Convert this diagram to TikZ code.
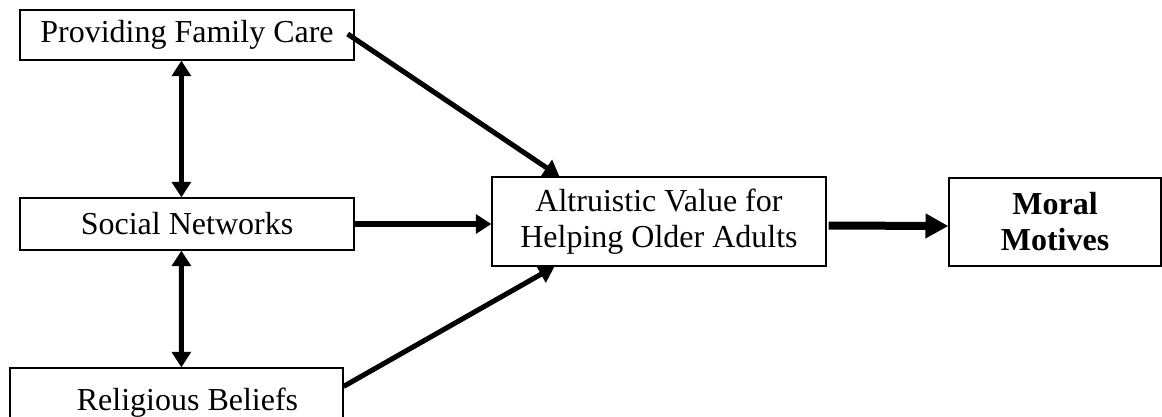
\documentclass[tikz,border=0pt]{standalone}
\usepackage{fontspec}
\setmainfont{Liberation Serif}
\usetikzlibrary{arrows.meta,calc}
\tikzset{
  box/.style={draw=black, line width=0.45pt, rectangle, inner sep=0pt, align=center,
    font=\fontsize{12pt}{13.5pt}\selectfont},
  thinarrow/.style={line width=1.9pt, -{Triangle[length=5.8pt,width=7pt]}},
  dblarrow/.style={line width=1.9pt, {Triangle[length=5.8pt,width=7pt]}-{Triangle[length=5.8pt,width=7pt]}},
  thickarrow/.style={line width=3pt, -{Triangle[length=8.6pt,width=8.8pt]}}
}
\begin{document}
\begin{tikzpicture}[x=0.375pt,y=-0.375pt]
\useasboundingbox (0,0) rectangle (1162,416);
\clip (0,0) rectangle (1162,416);
\node[box, minimum width=125.25pt, minimum height=18.75pt] (pfc) at (187,35) {Providing Family Care};
\node[box, minimum width=125.25pt, minimum height=19.5pt] (sn) at (187,224) {Social Networks};
\node[box, minimum width=124.9pt, minimum height=25.9pt] (rb) at (176.5,402.5) {\hspace{8.25pt}Religious Beliefs};
\node[box, minimum width=125.25pt, minimum height=33.4pt] (alt) at (659,221.5) {Altruistic Value for\\Helping Older Adults};
\node[box, minimum width=79.5pt, minimum height=33pt] (mm) at (1055,222) {\textbf{Moral}\\\textbf{Motives}};

\draw[thinarrow] ($(pfc.east)+(-7,-1)$) -- ($(alt.north west)+(68,0)$);
\draw[thinarrow] (sn.east) -- (alt.west |- sn.east);
\draw[thinarrow] ($(rb.north east)+(0,19)$) -- ($(alt.south west)+(63,0)$);
\draw[thickarrow] ($(alt.east)+(2,4)$) -- ($(mm.west)+(0,4)$);
\draw[dblarrow] ($(pfc.south west)+(162,0)$) -- ($(sn.north west)+(162,0)$);
\draw[dblarrow] ($(sn.south west)+(162,0)$) -- ($(rb.north west)+(172,0)$);
\end{tikzpicture}
\end{document}
